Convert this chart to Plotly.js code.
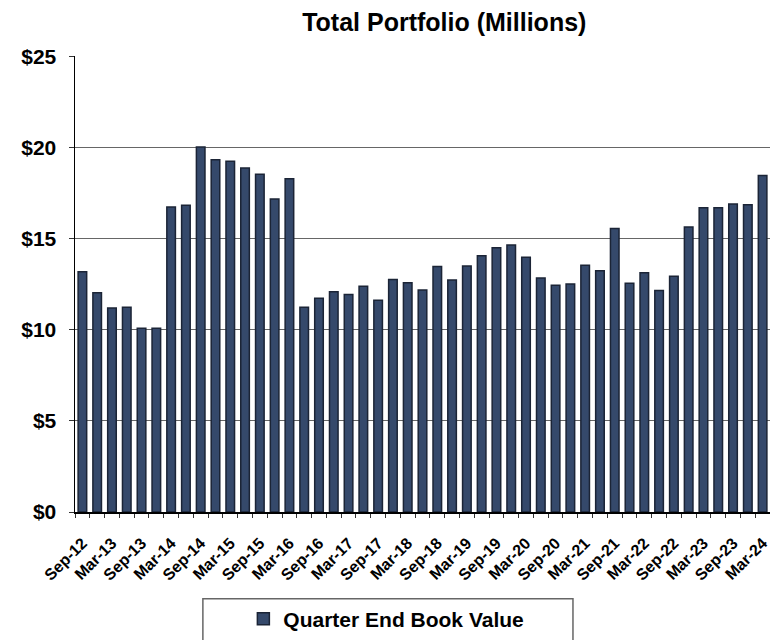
<!DOCTYPE html>
<html>
<head>
<meta charset="utf-8">
<script src="https://cdn.plot.ly/plotly-3.0.1.min.js"></script>
<style>html,body{margin:0;padding:0;background:#fff;}#chart{width:770px;height:640px;}</style>
</head>
<body>
<div id="chart"></div>
<script>
const quarters = ["Sep-12","Dec-12","Mar-13","Jun-13","Sep-13","Dec-13","Mar-14","Jun-14","Sep-14","Dec-14",
  "Mar-15","Jun-15","Sep-15","Dec-15","Mar-16","Jun-16","Sep-16","Dec-16","Mar-17","Jun-17",
  "Sep-17","Dec-17","Mar-18","Jun-18","Sep-18","Dec-18","Mar-19","Jun-19","Sep-19","Dec-19",
  "Mar-20","Jun-20","Sep-20","Dec-20","Mar-21","Jun-21","Sep-21","Dec-21","Mar-22","Jun-22",
  "Sep-22","Dec-22","Mar-23","Jun-23","Sep-23","Dec-23","Mar-24"];
const bookValue = [13.2,12.05,11.2,11.25,10.1,10.1,16.75,16.85,20.05,19.35,
  19.27,18.9,18.55,17.2,18.3,11.25,11.74,12.1,11.95,12.4,
  11.63,12.77,12.59,12.2,13.48,12.74,13.52,14.08,14.52,14.67,
  14.0,12.85,12.46,12.52,13.55,13.25,15.58,12.57,13.14,12.17,
  12.95,15.65,16.72,16.72,16.92,16.88,18.49];
const tickText = quarters.map((q,i)=> i%2===0 ? q : "");
const yTicks = [0,5,10,15,20,25];
const yTickText = yTicks.map(v=>"$"+v);
const seriesName = "Quarter End Book Value";
const chartTitle = "Total Portfolio (Millions)";

const font = "Liberation Sans, Arial, sans-serif";
Plotly.newPlot("chart", [{
  type: "bar",
  x: quarters,
  y: bookValue,
  name: seriesName,
  marker: {color: "#35496b", line: {color: "#1b2436", width: 1.5}},
  showlegend: true
}], {
  width: 770, height: 640,
  margin: {l: 75, r: 0, t: 56, b: 126},
  paper_bgcolor: "#fff", plot_bgcolor: "#fff",
  bargap: 0.42,
  title: {text: chartTitle, x: 0.577, xanchor: "center", y: 0.966, yanchor: "middle",
    font: {family: font, size: 25, weight: "bold", color: "#000"}},
  xaxis: {
    type: "category", automargin: false,
    tickmode: "array", tickvals: quarters, ticktext: tickText,
    tickson: "boundaries",
    tickangle: -45,
    ticklabelstandoff: 14,
    tickfont: {family: font, size: 16, weight: "bold", color: "#000"},
    showline: true, linecolor: "#000", linewidth: 1.5,
    ticks: "outside", ticklen: 4, tickcolor: "#333",
    showgrid: false
  },
  yaxis: {
    range: [0, 25.05], automargin: false,
    tickmode: "array", tickvals: yTicks, ticktext: yTickText,
    tickfont: {family: font, size: 21, weight: "bold", color: "#000"},
    ticklabelstandoff: 8,
    showline: true, linecolor: "#000", linewidth: 1.5,
    ticks: "outside", ticklen: 5, tickcolor: "#333",
    showgrid: true, gridcolor: "#666", gridwidth: 1,
    zeroline: false
  },
  legend: {
    orientation: "h", x: 0.448, xanchor: "center", y: -0.235, yanchor: "middle",
    borderwidth: 0, bgcolor: "rgba(0,0,0,0)",
    font: {family: font, size: 21, weight: "bold", color: "#000"}
  },
  shapes: [{
    type: "rect", xref: "paper", yref: "paper",
    x0: 0.184, x1: 0.7165, y0: -0.19, y1: -0.35,
    line: {color: "#666", width: 1.5}, fillcolor: "rgba(0,0,0,0)", layer: "below"
  }]
}, {displayModeBar: false, staticPlot: true});
</script>
</body>
</html>
